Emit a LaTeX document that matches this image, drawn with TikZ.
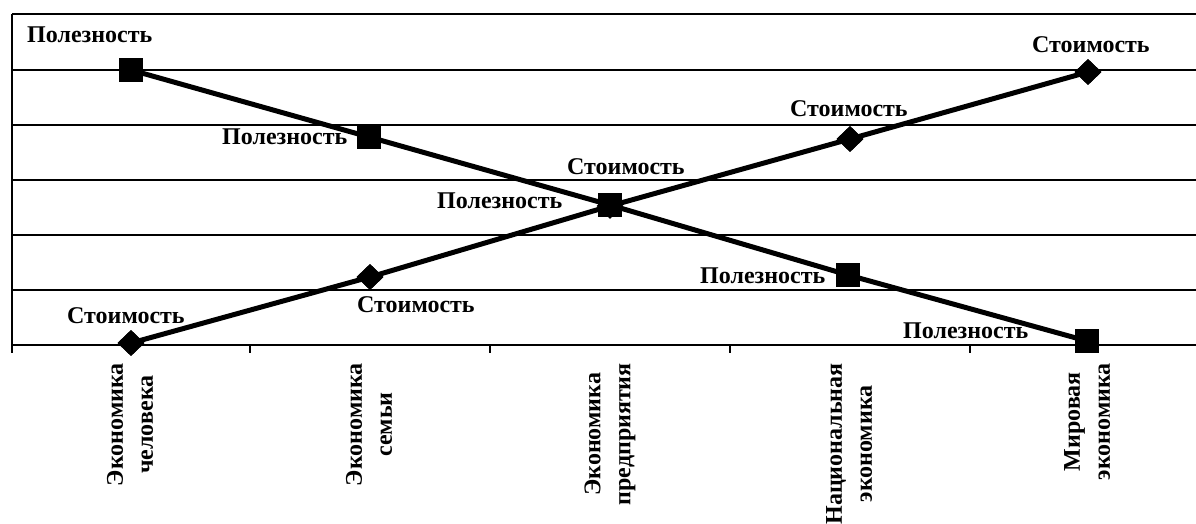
\documentclass[tikz,border=0pt]{standalone}
\usepackage{fontspec}
\setmainfont{Liberation Serif}
\usetikzlibrary{shapes.geometric}
\begin{document}
\begin{tikzpicture}[x=1pt,y=-1pt,
  grid/.style={line width=1.4pt,black},
  axisline/.style={line width=1.8pt,black},
  series/.style={line width=5pt,black},
  sqmark/.style={rectangle,fill=black,inner sep=0pt,minimum size=24pt},
  dmmark/.style={diamond,fill=black,inner sep=0pt,minimum width=27pt,minimum height=26pt},
  lbl/.style={font=\fontsize{24}{28}\selectfont\bfseries,inner sep=0pt},
  cat/.style={font=\fontsize{24}{30}\selectfont\bfseries,inner sep=0pt,rotate=90,anchor=east,align=center}]
\useasboundingbox (0,0) rectangle (1196,524);
% grid
\foreach \yy in {14,70,125,180,235,290}{
  \draw[grid] (12,\yy) -- (1196,\yy);
}
\draw[axisline] (12,345) -- (1196,345);
\draw[axisline] (12,14) -- (12,353);
\foreach \xx in {250,490,730,970}{
  \draw[axisline] (\xx,345) -- (\xx,353);
}
% Стоимость series
\node[dmmark] (s1) at (131,343) {};
\node[dmmark] (s2) at (370,277) {};
\node[dmmark] (s3) at (610,206) {};
\node[dmmark] (s4) at (850,139) {};
\node[dmmark] (s5) at (1088,72) {};
\draw[series] (s1.center) -- (s2.center) -- (s3.center) -- (s4.center) -- (s5.center);
\node[dmmark] at (s1) {};
\node[dmmark] at (s2) {};
\node[dmmark] at (s4) {};
\node[dmmark] at (s5) {};
% Полезность series
\node[sqmark] (u1) at (131,70) {};
\node[sqmark] (u2) at (369,137) {};
\node[sqmark] (u3) at (610,205) {};
\node[sqmark] (u4) at (848,275) {};
\node[sqmark] (u5) at (1087,341) {};
\draw[series] (u1.center) -- (u2.center) -- (u3.center) -- (u4.center) -- (u5.center);
\node[sqmark] at (u1) {};
\node[sqmark] at (u2) {};
\node[sqmark] at (u3) {};
\node[sqmark] at (u4) {};
\node[sqmark] at (u5) {};
% labels Полезность
\node[lbl,anchor=base west] (lu1) at (27,43) {Полезность};
\node[lbl,anchor=base west] (lu2) at (222,145) {Полезность};
\node[lbl,anchor=base west] (lu3) at (437,208) {Полезность};
\node[lbl,anchor=base west] (lu4) at (700,283) {Полезность};
\node[lbl,anchor=base west] (lu5) at (903,338) {Полезность};
% labels Стоимость
\node[lbl,anchor=base west] (ls1) at (67,323) {Стоимость};
\node[lbl,anchor=base west] (ls2) at (357,312) {Стоимость};
\node[lbl,anchor=base west] (ls3) at (567,174) {Стоимость};
\node[lbl,anchor=base west] (ls4) at (790,117) {Стоимость};
\node[lbl,anchor=base west] (ls5) at (1032,53) {Стоимость};
% category labels
\node[cat] (c1) at (130,363) {Экономика\\человека};
\node[cat] (c2) at (369,363) {Экономика\\семьи};
\node[cat] (c3) at (610,363) {Экономика\\предприятия};
\node[cat] (c4) at (849,363) {Национальная\\экономика};
\node[cat] (c5) at (1087,363) {Мировая\\экономика};
\end{tikzpicture}
\end{document}
